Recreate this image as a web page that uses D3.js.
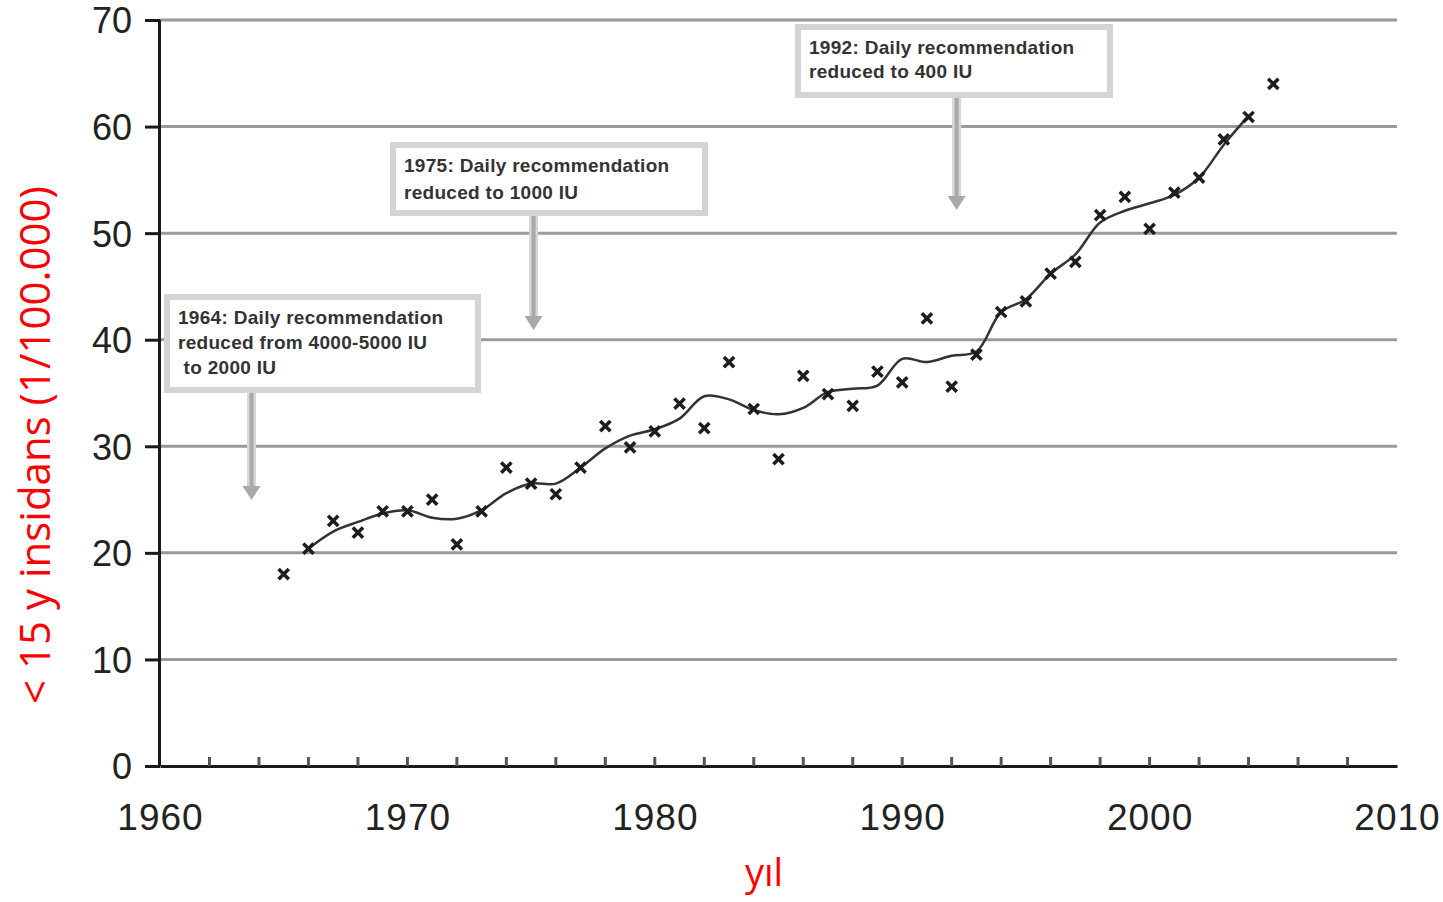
<!DOCTYPE html>
<html>
<head>
<meta charset="utf-8">
<script src="https://cdn.jsdelivr.net/npm/d3@7"></script>
<style>
  body { margin: 0; background: #fff; }
  .tick text { font-family: "Liberation Sans", Arial, sans-serif; }
</style>
</head>
<body>
<div id="chart"></div>
<script>
// data
var pointYears = [1965, 1966, 1967, 1968, 1969, 1970, 1971, 1972, 1973, 1974, 1975, 1976, 1977, 1978, 1979,
  1980, 1981, 1982, 1983, 1984, 1985, 1986, 1987, 1988, 1989, 1990, 1991, 1992, 1993, 1994, 1995,
  1996, 1997, 1998, 1999, 2000, 2001, 2002, 2003, 2004, 2005];
var pointValues = [18.0, 20.4, 23.0, 21.9, 23.9, 23.9, 25.0, 20.8, 23.9, 28.0, 26.5, 25.5, 28.0, 31.9, 29.9,
  31.4, 34.0, 31.7, 37.9, 33.5, 28.8, 36.6, 34.9, 33.8, 37.0, 36.0, 42.0, 35.6, 38.6, 42.6, 43.6,
  46.2, 47.3, 51.7, 53.4, 50.4, 53.8, 55.2, 58.8, 60.9, 64.0];

var trendYears = d3.range(1966, 2005);
var trendValues = [20.4, 22.0, 22.9, 23.7, 24.0, 23.3, 23.2, 24.0, 25.6, 26.5, 26.5, 28.0, 29.8, 31.0,
  31.6, 32.6, 34.7, 34.4, 33.4, 33.0, 33.6, 35.1, 35.4, 35.7, 38.2, 37.9, 38.5, 38.9, 42.6,
  43.8, 46.2, 48.0, 51.0, 52.1, 52.8, 53.6, 55.2, 58.3, 61.0];

var yTicks = [0, 10, 20, 30, 40, 50, 60, 70];
var xTicks = [1960, 1970, 1980, 1990, 2000, 2010];

var notes = [
  { lines: ["1964: Daily recommendation", "reduced from 4000-5000 IU", " to 2000 IU"], year: 1963.7 },
  { lines: ["1975: Daily recommendation", "reduced to 1000 IU"], year: 1975.1 },
  { lines: ["1992: Daily recommendation", "reduced to 400 IU"], year: 1992.2 }
];

var svgWidth = 1443;
var svgHeight = 902;

var margin = { top: 20, right: 46, bottom: 136, left: 160 };
var width = svgWidth - margin.left - margin.right;
var height = svgHeight - margin.top - margin.bottom;

var svg = d3.select("#chart")
  .append("svg")
  .attr("width", svgWidth)
  .attr("height", svgHeight);

var chartGroup = svg.append("g")
  .attr("transform", `translate(${margin.left}, ${margin.top})`);

var x = d3.scaleLinear().domain([1960, 2010]).range([0, width]);
var y = d3.scaleLinear().domain([0, 70]).range([height, 0]);

// gridlines
chartGroup.selectAll(".grid")
  .data(yTicks.filter(d => d > 0))
  .enter().append("line")
  .attr("x1", 0).attr("x2", width)
  .attr("y1", d => y(d)).attr("y2", d => y(d))
  .attr("stroke", "#9a9a9c")
  .attr("stroke-width", 3);

// y axis
var leftAxis = d3.axisLeft(y).tickValues(yTicks).tickSize(15).tickPadding(13);
var gy = chartGroup.append("g").call(leftAxis);
gy.select(".domain").attr("stroke", "#1a1a1a").attr("stroke-width", 3).attr("d", `M-0.5,${height}V0`);
gy.selectAll(".tick line").attr("stroke", "#1a1a1a").attr("stroke-width", 3);
gy.selectAll(".tick text").attr("font-size", 36).attr("fill", "#222").attr("dy", "0.36em");

// x axis: small minor ticks every 2 years pointing up
var bottomAxis = d3.axisBottom(x).tickValues(xTicks).tickFormat(d3.format("d")).tickSize(0).tickPadding(38);
var gx = chartGroup.append("g")
  .attr("transform", `translate(0, ${height})`)
  .call(bottomAxis);
gx.select(".domain").attr("stroke", "#1a1a1a").attr("stroke-width", 3);
gx.selectAll(".tick text").attr("font-size", 37).attr("letter-spacing", 1).attr("fill", "#222");

chartGroup.selectAll(".minor")
  .data(d3.range(1962, 2010, 2))
  .enter().append("line")
  .attr("x1", d => x(d)).attr("x2", d => x(d))
  .attr("y1", height).attr("y2", height - 9)
  .attr("stroke", "#555")
  .attr("stroke-width", 3);

// annotation boxes and arrows
var boxes = [
  { x: 7, y: 277, w: 311, h: 93, arrowTop: 370, arrowEnd: 480, lineGap: 25 },
  { x: 233, y: 125, w: 312, h: 68, arrowTop: 193, arrowEnd: 310, lineGap: 27 },
  { x: 638, y: 7, w: 312, h: 68, arrowTop: 75, arrowEnd: 190, lineGap: 24 }
];

notes.forEach(function(n, i) {
  var b = boxes[i];
  var ax = x(n.year);
  chartGroup.append("line")
    .attr("x1", ax).attr("x2", ax)
    .attr("y1", b.arrowTop).attr("y2", b.arrowEnd - 8)
    .attr("stroke", "#d6d6d8").attr("stroke-width", 9);
  chartGroup.append("line")
    .attr("x1", ax).attr("x2", ax)
    .attr("y1", b.arrowTop).attr("y2", b.arrowEnd - 8)
    .attr("stroke", "#a9a9ab").attr("stroke-width", 4);
  chartGroup.append("path")
    .attr("d", `M${ax - 9},${b.arrowEnd - 14}L${ax + 9},${b.arrowEnd - 14}L${ax},${b.arrowEnd}Z`)
    .attr("fill", "#a9a9ab");

  chartGroup.append("rect")
    .attr("x", b.x).attr("y", b.y)
    .attr("width", b.w).attr("height", b.h)
    .attr("fill", "#fff")
    .attr("stroke", "#d4d4d6")
    .attr("stroke-width", 6);

  chartGroup.append("text")
    .selectAll("tspan")
    .data(n.lines)
    .enter().append("tspan")
    .attr("x", b.x + 11)
    .attr("y", (d, j) => b.y + 27 + j * b.lineGap)
    .attr("font-family", "Liberation Sans, Arial, sans-serif")
    .attr("font-size", 19)
    .attr("font-weight", "bold")
    .attr("letter-spacing", 0.3)
    .attr("fill", "#333")
    .text(d => d);
});

// smoothed trend line
var line = d3.line()
  .x((d, i) => x(trendYears[i]))
  .y(d => y(d))
  .curve(d3.curveCatmullRom.alpha(0.5));

chartGroup.append("path")
  .datum(trendValues)
  .attr("d", line)
  .attr("fill", "none")
  .attr("stroke", "#333")
  .attr("stroke-width", 2.5);

// markers
var marker = d3.symbol().type(d3.symbolX).size(70);
chartGroup.selectAll(".pt")
  .data(pointValues)
  .enter().append("path")
  .attr("d", marker)
  .attr("transform", (d, i) => `translate(${x(pointYears[i])}, ${y(d)})`)
  .attr("fill", "none")
  .attr("stroke", "#1d1d1f")
  .attr("stroke-width", 3.5);

// axis titles
svg.append("text")
  .attr("transform", `translate(50, 445) rotate(-90)`)
  .attr("text-anchor", "middle")
  .attr("font-family", "Open Sans, Noto Sans, sans-serif")
  .attr("font-size", 42)
  .attr("fill", "#ff0000")
  .text("< 15 y insidans (1/100.000)");

svg.append("text")
  .attr("x", 764)
  .attr("y", 886)
  .attr("text-anchor", "middle")
  .attr("font-family", "Open Sans, Noto Sans, sans-serif")
  .attr("font-size", 38)
  .attr("fill", "#ff0000")
  .text("yıl");
</script>
</body>
</html>
